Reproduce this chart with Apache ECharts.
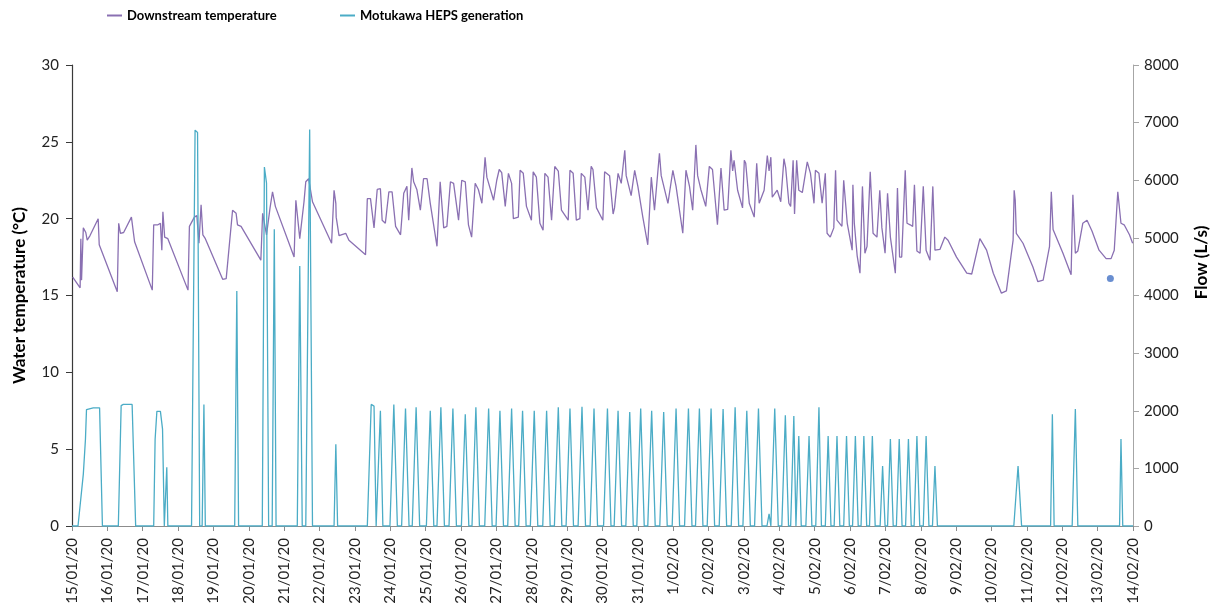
<!DOCTYPE html>
<html>
<head>
<meta charset="utf-8">
<script src="https://cdn.jsdelivr.net/npm/echarts@6/dist/echarts.min.js"></script>
<style>
  html, body { margin: 0; padding: 0; background: #ffffff; }
  #chart { width: 1218px; height: 614px; }
</style>
</head>
<body>
<div id="chart"></div>
<script>
// Day labels along the x axis (day 0 = 15 Jan 2020)
const dateLabels = [
  '15/01/20', '16/01/20', '17/01/20', '18/01/20', '19/01/20', '20/01/20', '21/01/20',
  '22/01/20', '23/01/20', '24/01/20', '25/01/20', '26/01/20', '27/01/20', '28/01/20',
  '29/01/20', '30/01/20', '31/01/20', '1/02/20', '2/02/20', '3/02/20', '4/02/20',
  '5/02/20', '6/02/20', '7/02/20', '8/02/20', '9/02/20', '10/02/20', '11/02/20',
  '12/02/20', '13/02/20', '14/02/20'
];

const seriesNames = ['Downstream temperature', 'Motukawa HEPS generation'];

// Downstream water temperature, [day, °C]
const downstreamTemp = [
  [0.02, 16.2], [0.23, 15.5], [0.25, 18.7], [0.27, 16.0], [0.32, 19.4], [0.39, 19.1], [0.43, 18.6],
  [0.51, 18.9], [0.74, 20.0], [0.77, 18.3], [1.28, 15.25], [1.32, 19.7], [1.37, 19.05], [1.46, 19.1],
  [1.68, 20.1], [1.77, 18.5], [2.27, 15.35], [2.31, 19.6], [2.43, 19.6], [2.50, 19.7], [2.54, 17.95],
  [2.57, 20.45], [2.62, 18.8], [2.71, 18.7], [3.28, 15.35], [3.32, 19.5], [3.46, 20.1], [3.53, 20.2],
  [3.59, 18.4], [3.65, 20.9], [3.70, 18.95], [3.77, 18.7], [4.26, 16.05], [4.36, 16.1], [4.54, 20.55],
  [4.64, 20.35], [4.68, 19.6], [4.78, 19.5], [5.34, 17.3], [5.39, 20.35], [5.44, 20.45], [5.50, 18.95],
  [5.60, 20.7], [5.67, 21.75], [5.75, 20.8], [6.28, 17.5], [6.33, 21.2], [6.37, 21.2], [6.44, 18.7],
  [6.56, 21.1], [6.61, 22.4], [6.69, 22.6], [6.80, 21.1], [7.34, 18.4], [7.38, 18.4], [7.41, 21.85],
  [7.46, 21.0], [7.47, 20.1], [7.55, 18.9], [7.74, 19.05], [7.83, 18.6], [8.30, 17.65],
  [8.35, 21.3], [8.44, 21.3], [8.49, 21.4], [8.54, 19.4], [8.63, 21.9], [8.72, 21.95], [8.77, 19.9],
  [8.86, 19.7], [8.96, 21.75], [9.05, 21.75], [9.15, 19.5], [9.29, 18.95], [9.38, 21.65], [9.47, 22.1],
  [9.52, 19.9], [9.61, 23.3], [9.66, 22.4], [9.75, 21.9], [9.85, 20.55], [9.94, 22.6], [10.04, 22.6],
  [10.13, 21.0], [10.32, 18.2], [10.41, 22.4], [10.46, 22.3], [10.51, 19.4], [10.60, 19.5], [10.70, 22.4],
  [10.79, 22.3], [10.93, 19.9], [11.02, 22.5], [11.12, 22.4], [11.21, 19.6], [11.30, 18.8], [11.40, 22.3],
  [11.49, 21.9], [11.59, 21.0], [11.68, 24.0], [11.73, 22.7], [11.92, 21.2], [12.01, 22.5], [12.08, 23.2],
  [12.15, 23.0], [12.25, 20.8], [12.34, 22.95], [12.43, 22.3], [12.48, 20.0], [12.62, 20.1], [12.67, 23.15],
  [12.76, 22.95], [12.85, 20.8], [12.99, 19.9], [13.04, 23.05], [13.13, 22.7], [13.23, 19.7], [13.32, 19.25],
  [13.37, 22.95], [13.46, 22.7], [13.56, 19.9], [13.65, 23.4], [13.75, 23.1], [13.84, 20.55], [14.03, 19.9],
  [14.08, 23.15], [14.17, 22.95], [14.26, 19.9], [14.36, 20.0], [14.40, 22.95], [14.50, 22.7], [14.59, 20.55],
  [14.68, 23.4], [14.73, 23.2], [14.83, 20.7], [15.01, 19.9], [15.06, 23.05], [15.20, 22.8], [15.30, 20.3],
  [15.34, 20.7], [15.44, 22.95], [15.53, 22.3], [15.63, 24.45], [15.67, 22.8], [15.81, 21.5], [15.91, 23.15],
  [16.00, 22.1], [16.14, 20.1], [16.28, 18.3], [16.38, 22.7], [16.47, 20.55], [16.61, 24.25], [16.66, 22.8],
  [16.85, 21.0], [16.99, 23.15], [17.08, 22.1], [17.27, 19.05], [17.36, 23.15], [17.46, 22.1], [17.55, 20.55],
  [17.64, 24.8], [17.69, 22.8], [17.78, 21.9], [17.92, 20.8], [18.02, 23.4], [18.11, 23.2], [18.25, 19.6],
  [18.35, 23.3], [18.44, 20.55], [18.54, 20.6], [18.63, 24.45], [18.68, 23.1], [18.72, 23.8], [18.82, 21.85],
  [18.96, 20.7], [19.01, 23.8], [19.05, 23.6], [19.15, 21.0], [19.29, 20.1], [19.36, 23.6], [19.43, 21.0],
  [19.57, 21.85], [19.66, 24.1], [19.71, 23.1], [19.76, 24.0], [19.80, 21.4], [19.94, 21.85], [20.04, 21.1],
  [20.13, 23.9], [20.18, 23.3], [20.27, 21.0], [20.32, 20.8], [20.39, 23.8], [20.43, 20.3], [20.49, 23.8],
  [20.55, 21.85], [20.65, 21.7], [20.79, 23.7], [20.88, 22.95], [20.98, 21.0], [21.02, 23.15], [21.12, 22.95],
  [21.21, 21.0], [21.30, 22.95], [21.35, 19.05], [21.44, 18.8], [21.54, 19.4], [21.59, 23.15], [21.63, 19.9],
  [21.77, 19.5], [21.82, 22.5], [21.92, 19.7], [22.06, 17.95], [22.08, 22.2], [22.12, 19.7], [22.20, 17.6],
  [22.28, 16.45], [22.35, 22.1], [22.42, 17.75], [22.48, 18.2], [22.57, 23.05], [22.65, 19.05], [22.76, 18.8],
  [22.84, 21.85], [22.90, 19.4], [22.99, 17.75], [23.06, 21.65], [23.14, 18.8], [23.28, 16.45], [23.34, 22.0],
  [23.40, 17.5], [23.46, 17.5], [23.56, 23.15], [23.61, 19.7], [23.70, 19.6], [23.77, 19.5], [23.82, 22.2],
  [23.89, 17.9], [23.98, 17.75], [24.07, 22.1], [24.15, 17.95], [24.26, 17.3], [24.34, 22.1], [24.40, 17.95],
  [24.54, 18.0], [24.68, 18.8], [24.77, 18.6], [25.01, 17.5], [25.30, 16.45], [25.44, 16.4], [25.67, 18.7],
  [25.86, 17.95], [26.05, 16.45], [26.28, 15.15], [26.42, 15.3], [26.61, 18.6], [26.64, 21.85], [26.67, 21.2],
  [26.70, 19.05], [26.89, 18.4], [27.17, 16.85], [27.31, 15.9], [27.46, 16.0], [27.64, 18.2], [27.69, 21.75],
  [27.74, 19.3], [28.02, 17.75], [28.25, 16.35], [28.30, 21.55], [28.37, 17.75], [28.44, 17.9], [28.58, 19.7],
  [28.70, 19.9], [28.84, 19.2], [29.04, 17.95], [29.24, 17.4], [29.38, 17.4], [29.47, 17.95], [29.57, 21.75],
  [29.66, 19.7], [29.75, 19.6], [29.90, 18.95], [29.99, 18.4]
];

// Motukawa HEPS generation flow, [day, L/s]
const hepsFlow = [
  [0, 0], [0.17, 0], [0.32, 900], [0.38, 1500], [0.41, 2020], [0.60, 2050], [0.78, 2050], [0.86, 0],
  [1.31, 0], [1.39, 2090], [1.45, 2110], [1.70, 2110], [1.80, 0],
  [2.31, 0], [2.35, 1500], [2.40, 1990], [2.50, 1990], [2.56, 1680], [2.61, 0], [2.65, 0], [2.68, 1020], [2.71, 0],
  [3.38, 0], [3.48, 6870], [3.55, 6830], [3.61, 0], [3.68, 0], [3.73, 2110], [3.77, 0],
  [4.60, 0], [4.66, 4080], [4.71, 0],
  [5.38, 0], [5.44, 6230], [5.50, 5950], [5.56, 0], [5.66, 0], [5.72, 5150], [5.77, 0],
  [6.37, 0], [6.44, 4510], [6.51, 0], [6.61, 0], [6.72, 6880], [6.80, 0],
  [7.41, 0], [7.46, 1420], [7.51, 0],
  [8.35, 0], [8.46, 2110], [8.54, 2080], [8.60, 0], [8.64, 0], [8.72, 2000], [8.79, 0],
  [8.99, 0], [9.10, 2110], [9.20, 0], [9.32, 0], [9.43, 2040], [9.53, 0], [9.62, 0], [9.73, 2060], [9.83, 0],
  [10.02, 0], [10.13, 2000], [10.23, 0], [10.32, 0], [10.43, 2060], [10.53, 0], [10.66, 0], [10.77, 2040], [10.87, 0],
  [11.01, 0], [11.12, 1940], [11.22, 0], [11.31, 0], [11.42, 2060], [11.52, 0], [11.67, 0], [11.78, 2040], [11.88, 0],
  [11.99, 0], [12.10, 2000], [12.20, 0], [12.32, 0], [12.43, 2040], [12.53, 0], [12.63, 0], [12.74, 2000], [12.84, 0],
  [12.96, 0], [13.07, 2000], [13.17, 0], [13.31, 0], [13.42, 2000], [13.52, 0], [13.64, 0], [13.75, 2060], [13.85, 0],
  [13.97, 0], [14.08, 2040], [14.18, 0], [14.31, 0], [14.42, 2070], [14.52, 0], [14.65, 0], [14.76, 2040], [14.86, 0],
  [15.03, 0], [15.14, 2040], [15.24, 0], [15.33, 0], [15.44, 2000], [15.54, 0], [15.66, 0], [15.77, 1980], [15.87, 0],
  [15.97, 0], [16.08, 2040], [16.18, 0], [16.28, 0], [16.39, 2000], [16.49, 0], [16.62, 0], [16.73, 1980], [16.83, 0],
  [16.97, 0], [17.08, 2040], [17.18, 0], [17.32, 0], [17.43, 2040], [17.53, 0], [17.63, 0], [17.74, 2040], [17.84, 0],
  [17.96, 0], [18.07, 2040], [18.17, 0], [18.30, 0], [18.41, 2030], [18.51, 0], [18.64, 0], [18.75, 2060], [18.85, 0],
  [18.97, 0], [19.08, 2000], [19.18, 0], [19.30, 0], [19.41, 2040], [19.51, 0], [19.65, 0], [19.71, 210], [19.76, 0],
  [19.78, 0], [19.87, 2040], [19.97, 0], [20.07, 0], [20.17, 1920], [20.26, 0], [20.32, 0], [20.41, 1910], [20.47, 0],
  [20.49, 0], [20.55, 1560], [20.62, 0], [20.75, 0], [20.84, 1560], [20.92, 0], [21.03, 0], [21.12, 2060], [21.19, 0],
  [21.30, 0], [21.38, 1560], [21.46, 0], [21.55, 0], [21.63, 1560], [21.71, 0], [21.82, 0], [21.90, 1560], [21.98, 0],
  [22.07, 0], [22.15, 1560], [22.23, 0], [22.31, 0], [22.39, 1560], [22.47, 0], [22.55, 0], [22.63, 1560], [22.71, 0],
  [22.85, 0], [22.92, 1040], [22.99, 0], [23.06, 0], [23.14, 1510], [23.22, 0], [23.31, 0], [23.39, 1510], [23.47, 0],
  [23.57, 0], [23.65, 1510], [23.73, 0], [23.81, 0], [23.89, 1560], [23.97, 0], [24.07, 0], [24.15, 1560], [24.23, 0],
  [24.33, 0], [24.40, 1040], [24.47, 0],
  [26.63, 0], [26.75, 1040], [26.85, 0], [27.67, 0], [27.72, 1940], [27.77, 0],
  [28.28, 0], [28.37, 2030], [28.44, 0], [29.62, 0], [29.66, 1510], [29.71, 0], [30, 0]
];

// Single spot temperature reading, [day, °C]
const spotReading = [[29.36, 16.1]];

const tempTicks = { min: 0, max: 30, interval: 5 };
const flowTicks = { min: 0, max: 8000, interval: 1000 };

const FONT = 'Lato, "Open Sans", sans-serif';
const chart = echarts.init(document.getElementById('chart'), null, { renderer: 'canvas' });

const legendText = { fontFamily: FONT, fontWeight: 'bold', fontSize: 13, color: '#000' };

chart.setOption({
  backgroundColor: '#ffffff',
  animation: false,
  legend: [
    {
      data: [seriesNames[0]], left: 107, top: 9, padding: 0,
      itemWidth: 15, itemHeight: 2, icon: 'rect', textStyle: legendText
    },
    {
      data: [seriesNames[1]], left: 340, top: 9, padding: 0,
      itemWidth: 15, itemHeight: 2, icon: 'rect', textStyle: legendText
    }
  ],
  grid: { left: 72, right: 81, top: 65, bottom: 88, containLabel: false },
  xAxis: {
    type: 'value', min: 0, max: dateLabels.length - 1, interval: 1,
    axisLine: { show: true, lineStyle: { color: '#8c8c8c', width: 1 } },
    axisTick: { show: true, length: 5, lineStyle: { color: '#8c8c8c' } },
    splitLine: { show: false },
    axisLabel: {
      rotate: 90, margin: 12, fontFamily: FONT, fontSize: 15, color: '#222',
      formatter: (v) => dateLabels[Math.round(v)]
    }
  },
  yAxis: [
    {
      type: 'value', min: tempTicks.min, max: tempTicks.max, interval: tempTicks.interval,
      name: 'Water temperature (°C)', nameLocation: 'middle', nameGap: 44, nameRotate: 90,
      nameTextStyle: { fontFamily: FONT, fontWeight: 'bold', fontSize: 17, color: '#000' },
      axisLine: { show: true, lineStyle: { color: '#3a3a3a', width: 1.2 } },
      axisTick: { show: true, length: 6, lineStyle: { color: '#3a3a3a' } },
      splitLine: { show: false },
      axisLabel: { margin: 13, fontFamily: FONT, fontSize: 15, color: '#222' }
    },
    {
      type: 'value', min: flowTicks.min, max: flowTicks.max, interval: flowTicks.interval, position: 'right',
      name: 'Flow (L/s)', nameLocation: 'middle', nameGap: 60, nameRotate: 90,
      nameTextStyle: {
        fontFamily: FONT, fontWeight: 'bold', fontSize: 17, color: '#000',
        padding: [0, 0, 0, 66]
      },
      axisLine: { show: true, lineStyle: { color: '#a6a6a6', width: 1 } },
      axisTick: { show: true, length: 6, lineStyle: { color: '#a6a6a6' } },
      splitLine: { show: false },
      axisLabel: {
        margin: 11, fontFamily: FONT, fontSize: 15, color: '#222',
        formatter: (v) => String(v)
      }
    }
  ],
  series: [
    {
      name: seriesNames[0], type: 'line', yAxisIndex: 0, data: downstreamTemp,
      showSymbol: false, symbol: 'none', color: '#8a70b2',
      lineStyle: { width: 1.3, color: '#8a70b2' }
    },
    {
      name: seriesNames[1], type: 'line', yAxisIndex: 1, data: hepsFlow,
      showSymbol: false, symbol: 'none', color: '#4bacc6',
      lineStyle: { width: 1.3, color: '#4bacc6' }
    },
    {
      name: 'Spot reading', type: 'scatter', yAxisIndex: 0, data: spotReading,
      symbolSize: 7, itemStyle: { color: '#4472c4' }
    }
  ]
});
</script>
</body>
</html>
